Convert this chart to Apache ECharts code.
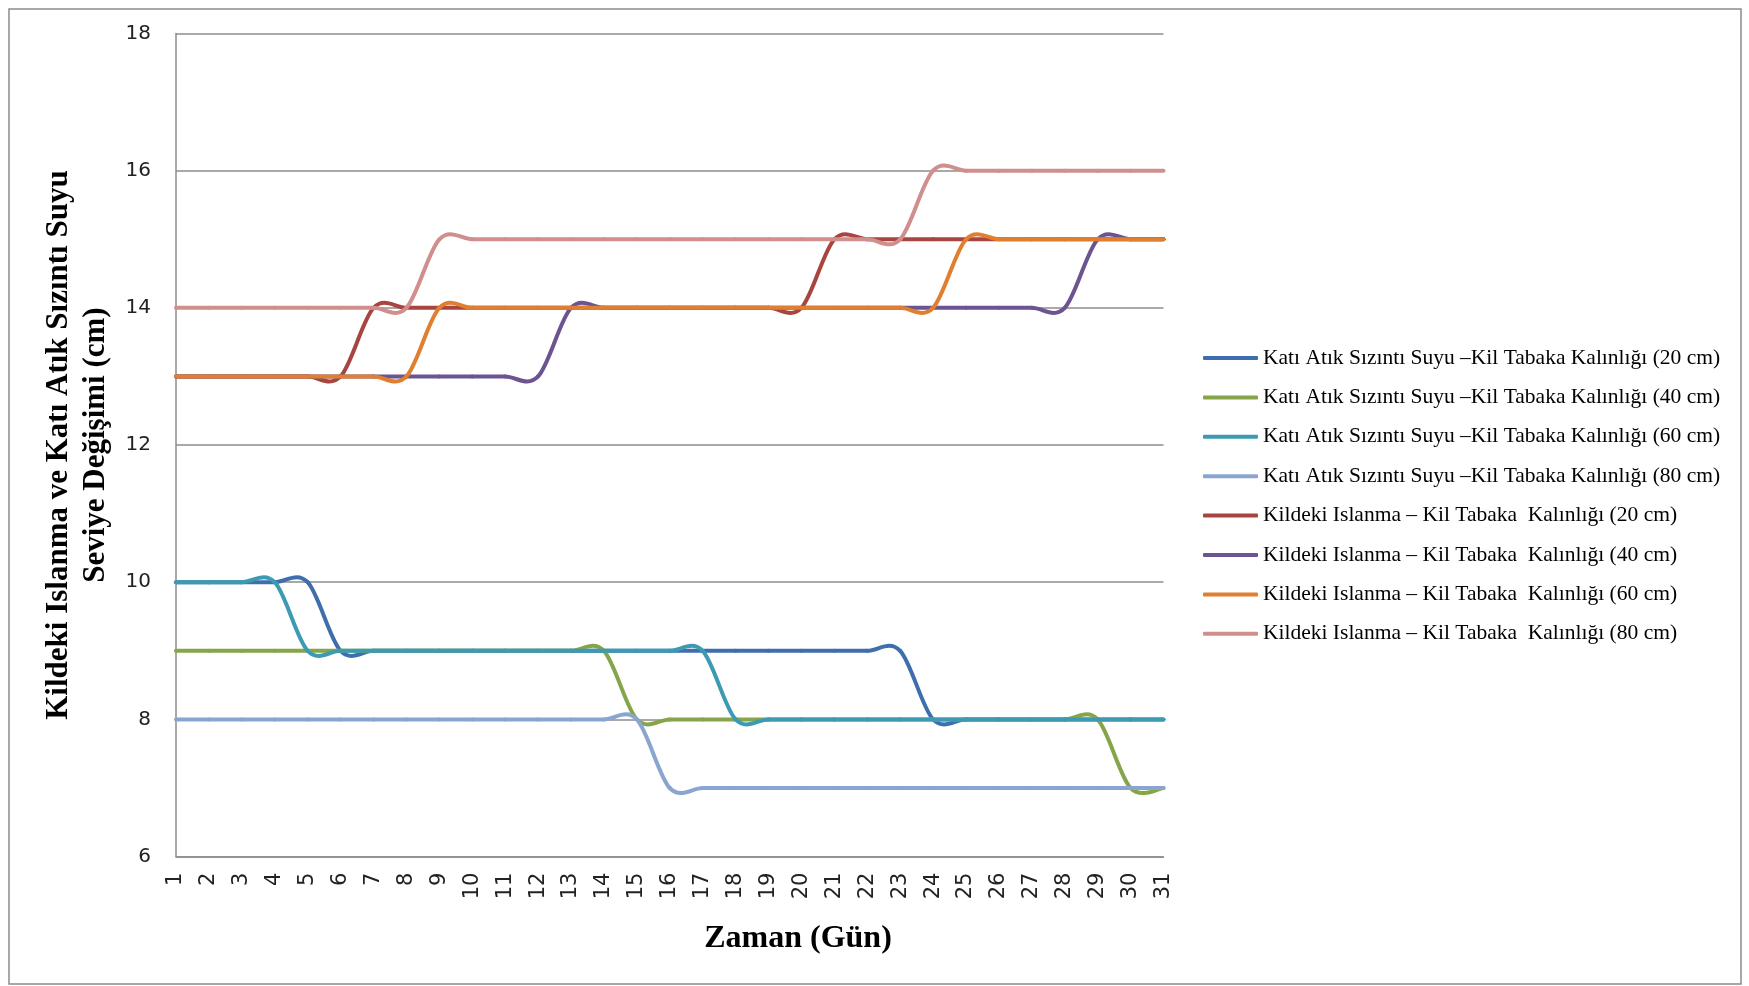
<!DOCTYPE html>
<html>
<head>
<meta charset="utf-8">
<script src="https://cdn.jsdelivr.net/npm/echarts@6/dist/echarts.min.js"></script>
<style>
  html, body { margin: 0; padding: 0; background: #ffffff; }
  #chart { width: 1749px; height: 986px; }
</style>
</head>
<body>
<div id="chart"></div>
<script>
// Days of the experiment
const days = ['1','2','3','4','5','6','7','8','9','10','11','12','13','14','15','16',
              '17','18','19','20','21','22','23','24','25','26','27','28','29','30','31'];

// Leachate level (cm) for each clay layer thickness
const katiAtik20 = [10,10,10,10,10,9,9,9,9,9,9,9,9,9,9,9,9,9,9,9,9,9,9,8,8,8,8,8,8,8,8];
const katiAtik40 = [9,9,9,9,9,9,9,9,9,9,9,9,9,9,8,8,8,8,8,8,8,8,8,8,8,8,8,8,8,7,7];
const katiAtik60 = [10,10,10,10,9,9,9,9,9,9,9,9,9,9,9,9,9,8,8,8,8,8,8,8,8,8,8,8,8,8,8];
const katiAtik80 = [8,8,8,8,8,8,8,8,8,8,8,8,8,8,8,7,7,7,7,7,7,7,7,7,7,7,7,7,7,7,7];

// Wetting front in the clay (cm) for each clay layer thickness
const kildeki20 = [13,13,13,13,13,13,14,14,14,14,14,14,14,14,14,14,14,14,14,14,15,15,15,15,15,15,15,15,15,15,15];
const kildeki40 = [13,13,13,13,13,13,13,13,13,13,13,13,14,14,14,14,14,14,14,14,14,14,14,14,14,14,14,14,15,15,15];
const kildeki60 = [13,13,13,13,13,13,13,13,14,14,14,14,14,14,14,14,14,14,14,14,14,14,14,14,15,15,15,15,15,15,15];
const kildeki80 = [14,14,14,14,14,14,14,14,15,15,15,15,15,15,15,15,15,15,15,15,15,15,15,16,16,16,16,16,16,16,16];

const seriesNames = [
  'Katı Atık Sızıntı Suyu –Kil Tabaka Kalınlığı (20 cm)',
  'Katı Atık Sızıntı Suyu –Kil Tabaka Kalınlığı (40 cm)',
  'Katı Atık Sızıntı Suyu –Kil Tabaka Kalınlığı (60 cm)',
  'Katı Atık Sızıntı Suyu –Kil Tabaka Kalınlığı (80 cm)',
  'Kildeki Islanma – Kil Tabaka  Kalınlığı (20 cm)',
  'Kildeki Islanma – Kil Tabaka  Kalınlığı (40 cm)',
  'Kildeki Islanma – Kil Tabaka  Kalınlığı (60 cm)',
  'Kildeki Islanma – Kil Tabaka  Kalınlığı (80 cm)'
];
const seriesData = [katiAtik20, katiAtik40, katiAtik60, katiAtik80,
                    kildeki20, kildeki40, kildeki60, kildeki80];
const colors = ['#3F6EAD', '#86A54A', '#3C9AB3', '#8AA5CF',
                '#A84541', '#6B5490', '#E07F30', '#D08E8D'];

const LINE_WIDTH = 4;

// Each segment between two consecutive days is drawn as a cubic Bezier whose
// control points follow the Catmull-Rom rule (tangent = (next - prev) / 6),
// which gives the soft S-shaped steps with a slight overshoot.
function makeRenderItem(k) {
  const vals = seriesData[k];
  const n = vals.length;
  return function (params, api) {
    const i = params.dataIndex;
    if (i >= n - 1) return null;
    const pt = j => {
      const c = Math.max(0, Math.min(n - 1, j));
      return api.coord([c, vals[c]]);
    };
    const p0 = pt(i - 1), p1 = pt(i), p2 = pt(i + 1), p3 = pt(i + 2);
    return {
      type: 'bezierCurve',
      shape: {
        x1: p1[0], y1: p1[1],
        x2: p2[0], y2: p2[1],
        cpx1: p1[0] + (p2[0] - p0[0]) / 6,
        cpy1: p1[1] + (p2[1] - p0[1]) / 6,
        cpx2: p2[0] - (p3[0] - p1[0]) / 6,
        cpy2: p2[1] - (p3[1] - p1[1]) / 6
      },
      style: { stroke: colors[k], lineWidth: LINE_WIDTH, fill: null, lineCap: 'round' }
    };
  };
}

const chart = echarts.init(document.getElementById('chart'), null, { renderer: 'canvas' });

const serif = '"Liberation Serif", "Times New Roman", serif';

chart.setOption({
  backgroundColor: '#ffffff',
  animation: false,
  color: colors,
  title: {
    text: 'Zaman (Gün)',
    left: 793,
    top: 918,
    textAlign: 'center',
    textStyle: { fontFamily: serif, fontWeight: 'bold', fontSize: 32, color: '#000' }
  },
  graphic: [{
    type: 'rect',
    shape: { x: 9, y: 9, width: 1732, height: 975 },
    style: { fill: 'none', stroke: '#8c8c8c', lineWidth: 1.5 },
    silent: true
  }],
  legend: {
    orient: 'vertical',
    left: 1203,
    top: 347,
    padding: 0,
    icon: 'roundRect',
    itemWidth: 55,
    itemHeight: 4,
    itemGap: 17.4,
    textStyle: { fontFamily: serif, fontSize: 21.5, color: '#000', lineHeight: 22 },
    data: seriesNames
  },
  grid: { left: 176, right: 585.5, top: 33.5, bottom: 129.4, containLabel: false },
  xAxis: {
    type: 'category',
    data: days,
    boundaryGap: false,
    axisLine: { lineStyle: { color: '#8c8c8c', width: 1.5 } },
    axisTick: { show: false },
    axisLabel: {
      rotate: 90, margin: 16, fontSize: 21, color: '#222',
      fontFamily: '"DejaVu Sans", sans-serif', interval: 0
    },
    splitLine: { show: false }
  },
  yAxis: {
    type: 'value',
    min: 6, max: 18, interval: 2,
    name: 'Kildeki Islanma ve Katı Atık Sızıntı Suyu\nSeviye Değişimi (cm)',
    nameLocation: 'middle',
    nameGap: 46,
    nameTextStyle: { fontFamily: serif, fontWeight: 'bold', fontSize: 31, color: '#000', lineHeight: 37 },
    axisLine: { show: true, lineStyle: { color: '#8c8c8c', width: 1.5 } },
    axisTick: { show: false },
    axisLabel: { margin: 25, fontSize: 20, color: '#222', fontFamily: '"DejaVu Sans", sans-serif' },
    splitLine: { show: true, lineStyle: { color: '#8c8c8c', width: 1.5 } }
  },
  series: seriesNames.map((name, k) => ({
    name: name,
    type: 'custom',
    coordinateSystem: 'cartesian2d',
    renderItem: makeRenderItem(k),
    data: seriesData[k].map((v, i) => [i, v]),
    encode: { x: 0, y: 1 },
    itemStyle: { color: colors[k] },
    clip: false,
    silent: true
  }))
});
</script>
</body>
</html>
